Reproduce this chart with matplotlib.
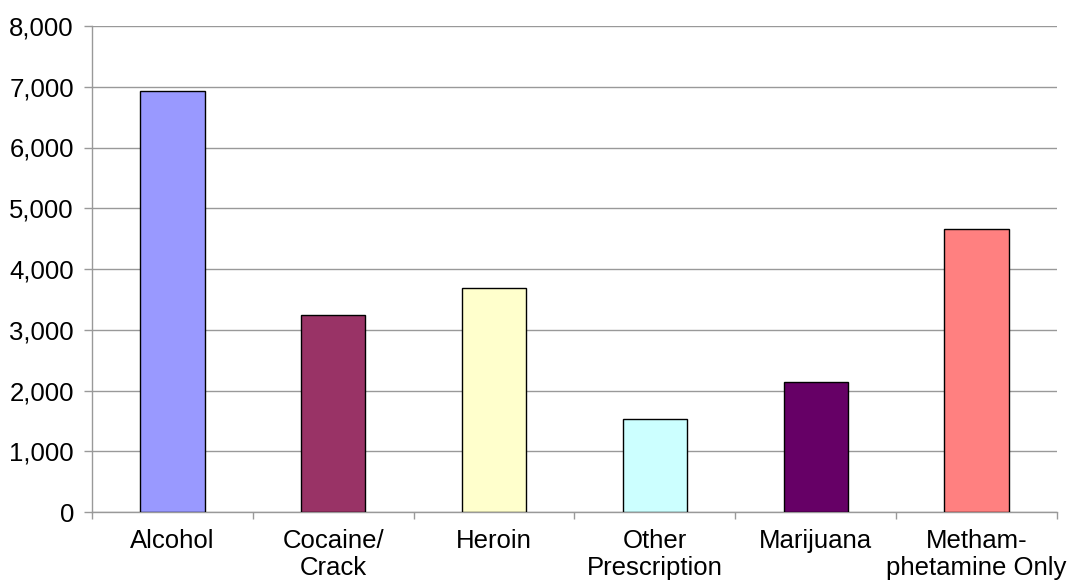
# Treatment admissions by primary substance - bar chart recreation
import matplotlib
matplotlib.use("Agg")
import matplotlib.pyplot as plt
from matplotlib.ticker import FuncFormatter

# === Data ===
categories = ["Alcohol", "Cocaine/\nCrack", "Heroin", "Other\nPrescription",
              "Marijuana", "Metham-\nphetamine Only"]
values = [6930, 3250, 3680, 1535, 2145, 4665]
colors = ["#9999FF", "#993366", "#FFFFCC", "#CCFFFF", "#660066", "#FF8080"]
y_ticks = list(range(0, 8001, 1000))

plt.rcParams["font.family"] = ["Liberation Sans", "DejaVu Sans"]

fig = plt.figure(figsize=(10.70, 5.81), dpi=100)
ax = fig.add_axes([92 / 1070, 1 - 512 / 581, (1057 - 92) / 1070, (512 - 26) / 581])

pos = list(range(len(categories)))
ax.bar(pos, values, width=0.4, color=colors, edgecolor="black", linewidth=1.0, zorder=3)

# axes styling
ax.set_xlim(-0.5, len(categories) - 0.5)
ax.set_ylim(0, 8000)
ax.set_yticks(y_ticks)
ax.yaxis.set_major_formatter(FuncFormatter(lambda v, p: f"{int(v):,}"))
ax.grid(axis="y", color="#999999", linewidth=1.0, zorder=0)

ax.set_xticks(pos)
ax.set_xticklabels(categories, linespacing=1.15)
ax.set_xticks([p - 0.5 for p in range(len(categories) + 1)], minor=True)
ax.tick_params(axis="x", which="major", length=0, pad=12, labelsize=18.5)
ax.tick_params(axis="x", which="minor", length=5, width=1, color="#999999")
ax.tick_params(axis="y", length=6, width=1, color="#999999", pad=7, labelsize=18.5)

for side in ["top", "right"]:
    ax.spines[side].set_visible(False)
for side in ["left", "bottom"]:
    ax.spines[side].set_color("#999999")
    ax.spines[side].set_linewidth(1.0)

fig.savefig("out.png", dpi=100, facecolor="white")
